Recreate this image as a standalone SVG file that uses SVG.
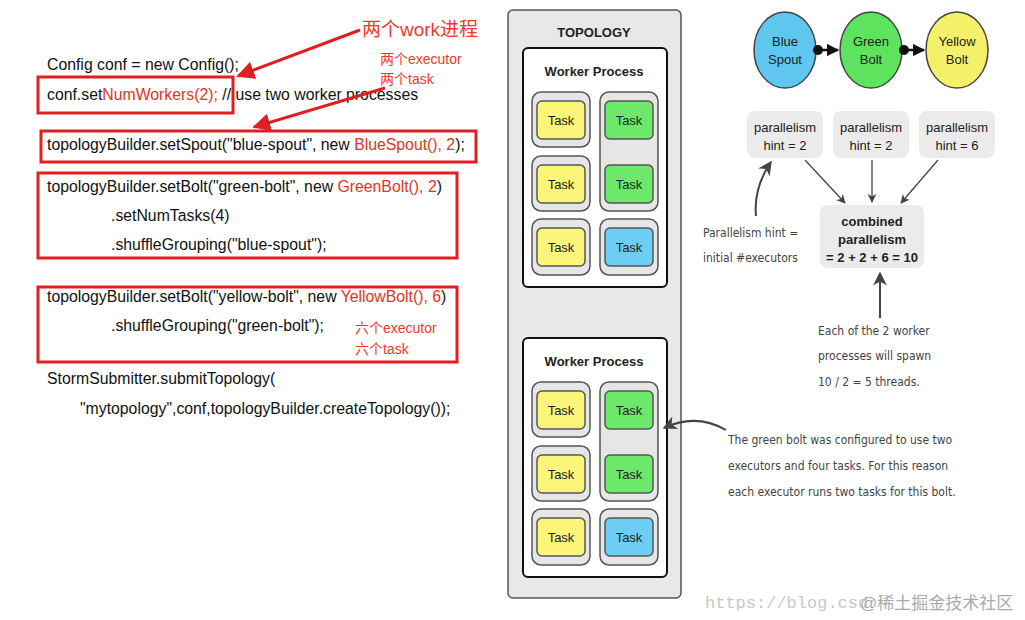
<svg xmlns="http://www.w3.org/2000/svg" width="1025" height="620" viewBox="0 0 1025 620">
<defs>
<style>
.code{font-family:"Liberation Sans",Arial,sans-serif;font-size:15.8px;fill:#111}
.r{fill:#e8321c}
.cn{font-family:"Liberation Sans","Noto Sans CJK SC",sans-serif;fill:#f03a2a}
.box{fill:none;stroke:#e02020;stroke-width:3}
.lbl{font-family:"Liberation Sans",Arial,sans-serif;font-size:13px;fill:#222;text-anchor:middle}
.b{font-weight:bold}
.exe{fill:#e6e6e6;stroke:#555;stroke-width:1.5}
.ty{fill:#fbf57a;stroke:#555;stroke-width:1.5}
.tg{fill:#6de86b;stroke:#555;stroke-width:1.5}
.tb{fill:#6dcdf5;stroke:#555;stroke-width:1.5}
.par{fill:#ebebeb}
.hand{font-family:"DejaVu Sans Condensed","DejaVu Sans",sans-serif;font-size:12px;fill:#444}
.ga{stroke:#444;stroke-width:1.3;fill:none}
</style>
<marker id="ra" viewBox="0 0 10 10" refX="9" refY="5" markerWidth="6" markerHeight="6" orient="auto"><path d="M0,0L10,5L0,10z" fill="#e02020"/></marker>
<marker id="ga" viewBox="0 0 10 10" refX="9" refY="5" markerWidth="7" markerHeight="7" orient="auto"><path d="M0,0L10,5L0,10L3,5z" fill="#444"/></marker>
<marker id="ka" viewBox="0 0 10 10" refX="9" refY="5" markerWidth="5" markerHeight="5" orient="auto"><path d="M0,0L10,5L0,10z" fill="#111"/></marker>
<marker id="kd" viewBox="0 0 10 10" refX="5" refY="5" markerWidth="4" markerHeight="4"><circle cx="5" cy="5" r="5" fill="#111"/></marker>
</defs>
<rect width="1025" height="620" fill="#fff"/>

<g id="code">
<text class="code" x="47" y="70">Config conf = new Config();</text>
<text class="code" x="47" y="100">conf.set<tspan class="r">NumWorkers(2); </tspan>// use two worker processes</text>
<text class="code" x="47" y="150">topologyBuilder.setSpout("blue-spout", new <tspan class="r">BlueSpout(), 2</tspan>);</text>
<text class="code" x="47" y="192">topologyBuilder.setBolt("green-bolt", new <tspan class="r">GreenBolt(), 2</tspan>)</text>
<text class="code" x="111" y="221">.setNumTasks(4)</text>
<text class="code" x="111" y="250">.shuffleGrouping("blue-spout");</text>
<text class="code" x="47" y="302">topologyBuilder.setBolt("yellow-bolt", new <tspan class="r">YellowBolt(), 6</tspan>)</text>
<text class="code" x="111" y="331">.shuffleGrouping("green-bolt");</text>
<text class="code" x="47" y="384">StormSubmitter.submitTopology(</text>
<text class="code" x="80" y="414">"mytopology",conf,topologyBuilder.createTopology());</text>
<rect class="box" x="38" y="77" width="195" height="36"/>
<rect class="box" x="41" y="131" width="435" height="31"/>
<rect class="box" x="38" y="173" width="419" height="85"/>
<rect class="box" x="38" y="287" width="419" height="75"/>
<text class="cn" x="362" y="36" font-size="19">两个work进程</text>
<text class="cn" x="380" y="64" font-size="14">两个executor</text>
<text class="cn" x="380" y="84" font-size="14">两个task</text>
<text class="cn" x="355" y="333" font-size="14">六个executor</text>
<text class="cn" x="355" y="354" font-size="14">六个task</text>
</g>

<g id="topology">
<rect x="508" y="10" width="173" height="588" rx="5" fill="#e8e8e8" stroke="#555" stroke-width="1.5"/>
<text class="lbl b" x="594" y="37" font-size="14">TOPOLOGY</text>
</g>

<g id="worker1">
<rect x="523" y="48" width="144" height="239" rx="5" fill="#fff" stroke="#111" stroke-width="2"/>
<text class="lbl b" x="594" y="76">Worker Process</text>
<rect class="exe" x="532" y="92" width="58" height="55" rx="9"/>
<rect class="exe" x="532" y="156" width="58" height="55" rx="9"/>
<rect class="exe" x="532" y="219" width="58" height="56" rx="9"/>
<rect class="exe" x="600" y="92" width="58" height="119" rx="9"/>
<rect class="exe" x="600" y="219" width="58" height="56" rx="9"/>
<rect class="ty" x="537" y="101" width="48" height="38" rx="5"/><text class="lbl" x="561" y="125">Task</text>
<rect class="ty" x="537" y="165" width="48" height="38" rx="5"/><text class="lbl" x="561" y="189">Task</text>
<rect class="ty" x="537" y="228" width="48" height="38" rx="5"/><text class="lbl" x="561" y="252">Task</text>
<rect class="tg" x="605" y="101" width="48" height="38" rx="5"/><text class="lbl" x="629" y="125">Task</text>
<rect class="tg" x="605" y="165" width="48" height="38" rx="5"/><text class="lbl" x="629" y="189">Task</text>
<rect class="tb" x="605" y="228" width="48" height="38" rx="5"/><text class="lbl" x="629" y="252">Task</text>
</g>

<g id="worker2" transform="translate(0,290)">
<rect x="523" y="48" width="144" height="239" rx="5" fill="#fff" stroke="#111" stroke-width="2"/>
<text class="lbl b" x="594" y="76">Worker Process</text>
<rect class="exe" x="532" y="92" width="58" height="55" rx="9"/>
<rect class="exe" x="532" y="156" width="58" height="55" rx="9"/>
<rect class="exe" x="532" y="219" width="58" height="56" rx="9"/>
<rect class="exe" x="600" y="92" width="58" height="119" rx="9"/>
<rect class="exe" x="600" y="219" width="58" height="56" rx="9"/>
<rect class="ty" x="537" y="101" width="48" height="38" rx="5"/><text class="lbl" x="561" y="125">Task</text>
<rect class="ty" x="537" y="165" width="48" height="38" rx="5"/><text class="lbl" x="561" y="189">Task</text>
<rect class="ty" x="537" y="228" width="48" height="38" rx="5"/><text class="lbl" x="561" y="252">Task</text>
<rect class="tg" x="605" y="101" width="48" height="38" rx="5"/><text class="lbl" x="629" y="125">Task</text>
<rect class="tg" x="605" y="165" width="48" height="38" rx="5"/><text class="lbl" x="629" y="189">Task</text>
<rect class="tb" x="605" y="228" width="48" height="38" rx="5"/><text class="lbl" x="629" y="252">Task</text>
</g>

<g id="blue-spout"><ellipse cx="785" cy="50" rx="31" ry="38" fill="#5fc6ef" stroke="#444" stroke-width="1.5"/><text class="lbl" x="785" y="46" fill="#1a3d7a">Blue</text><text class="lbl" x="785" y="64">Spout</text></g>
<g id="green-bolt"><ellipse cx="871" cy="50" rx="31" ry="38" fill="#5de35e" stroke="#444" stroke-width="1.5"/><text class="lbl" x="871" y="46">Green</text><text class="lbl" x="871" y="64">Bolt</text></g>
<g id="yellow-bolt"><ellipse cx="957" cy="50" rx="31" ry="38" fill="#f5f06a" stroke="#444" stroke-width="1.5"/><text class="lbl" x="957" y="46">Yellow</text><text class="lbl" x="957" y="64">Bolt</text></g>

<g id="par1"><rect class="par" x="747" y="111" width="76" height="47" rx="8"/><text class="lbl" x="785" y="132">parallelism</text><text class="lbl" x="785" y="150">hint = 2</text></g>
<g id="par2"><rect class="par" x="833" y="111" width="76" height="47" rx="8"/><text class="lbl" x="871" y="132">parallelism</text><text class="lbl" x="871" y="150">hint = 2</text></g>
<g id="par3"><rect class="par" x="919" y="111" width="76" height="47" rx="8"/><text class="lbl" x="957" y="132">parallelism</text><text class="lbl" x="957" y="150">hint = 6</text></g>
<g id="combined"><rect class="par" x="820" y="205" width="104" height="63" rx="8"/><text class="lbl b" x="872" y="226">combined</text><text class="lbl b" x="872" y="244">parallelism</text><text class="lbl b" x="872" y="262">= 2 + 2 + 6 = 10</text></g>

<g id="notes">
<text class="hand" x="703" y="237">Parallelism hint =</text>
<text class="hand" x="703" y="262">initial #executors</text>
<text class="hand" x="818" y="335">Each of the 2 worker</text>
<text class="hand" x="818" y="360">processes will spawn</text>
<text class="hand" x="818" y="386">10 / 2 = 5 threads.</text>
<text class="hand" x="728" y="444">The green bolt was configured to use two</text>
<text class="hand" x="728" y="470">executors and four tasks.  For this reason</text>
<text class="hand" x="728" y="496">each executor runs two tasks for this bolt.</text>
</g>

<g id="connectors">
<line x1="360" y1="30" x2="238" y2="76" stroke="#e02020" stroke-width="3" marker-end="url(#ra)"/>
<line x1="385" y1="88" x2="254" y2="127" stroke="#e02020" stroke-width="3" marker-end="url(#ra)"/>
<line x1="818" y1="50" x2="838" y2="50" stroke="#111" stroke-width="2.5" marker-start="url(#kd)" marker-end="url(#ka)"/>
<line x1="904" y1="50" x2="924" y2="50" stroke="#111" stroke-width="2.5" marker-start="url(#kd)" marker-end="url(#ka)"/>
<line class="ga" x1="805" y1="160" x2="845" y2="203" marker-end="url(#ga)"/>
<line class="ga" x1="872" y1="160" x2="872" y2="202" marker-end="url(#ga)"/>
<line class="ga" x1="938" y1="160" x2="901" y2="203" marker-end="url(#ga)"/>
<path d="M756,216 C754,195 760,178 771,162" stroke="#444" stroke-width="2" fill="none" marker-end="url(#ga)"/>
<path d="M880,318 L880,273" stroke="#444" stroke-width="2" fill="none" marker-end="url(#ga)"/>
<path d="M726,430 C705,418 685,418 664,428" stroke="#444" stroke-width="2" fill="none" marker-end="url(#ga)"/>
</g>

<text x="705" y="608" font-family="Liberation Mono,monospace" font-size="17" fill="#c8c8c8">https://blog.csd</text>
<text x="860" y="609" font-family="Liberation Sans,Noto Sans CJK SC,sans-serif" font-size="17" fill="#aaa">@稀土掘金技术社区</text>
</svg>
